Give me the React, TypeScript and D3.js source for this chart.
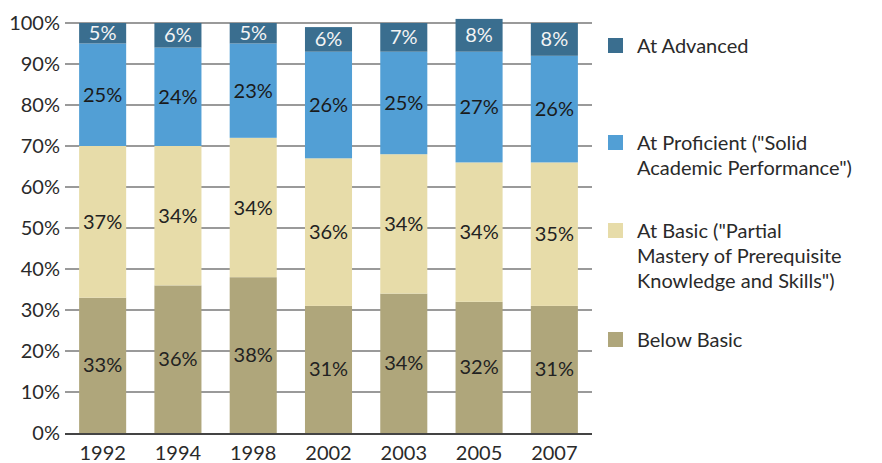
import React from "react";
import * as d3 from "d3";

const years = ["1992", "1994", "1998", "2002", "2003", "2005", "2007"];
const belowBasic = [33, 36, 38, 31, 34, 32, 31];
const atBasic = [37, 34, 34, 36, 34, 34, 35];
const atProficient = [25, 24, 23, 26, 25, 27, 26];
const atAdvanced = [5, 6, 5, 6, 7, 8, 8];
const yTicks = [0, 10, 20, 30, 40, 50, 60, 70, 80, 90, 100];

const seriesKeys = ["below", "basic", "proficient", "advanced"];
const seriesColors: Record<string, string> = {
  below: "#afa67b",
  basic: "#e7dca9",
  proficient: "#529fd5",
  advanced: "#3a6e8f",
};
const labelColors: Record<string, string> = {
  below: "#222",
  basic: "#222",
  proficient: "#1a1a1a",
  advanced: "#f4f4f4",
};

const legendItems = [
  { key: "advanced", lines: ["At Advanced"] },
  { key: "proficient", lines: ['At Proficient ("Solid', 'Academic Performance")'] },
  { key: "basic", lines: ['At Basic ("Partial', "Mastery of Prerequisite", 'Knowledge and Skills")'] },
  { key: "below", lines: ["Below Basic"] },
];

const FONT = "Lato, 'Open Sans', sans-serif";

export default function App() {
  const W = 882;
  const H = 463;
  const rows = years.map((y, i) => ({
    year: y,
    below: belowBasic[i],
    basic: atBasic[i],
    proficient: atProficient[i],
    advanced: atAdvanced[i],
  }));
  const stacked = d3.stack<any>().keys(seriesKeys)(rows);

  const x = d3
    .scaleBand<string>()
    .domain(years)
    .range([65, 592])
    .paddingInner(0.375)
    .paddingOuter(0.1875);
  const y = d3.scaleLinear().domain([0, 100]).range([433, 23]);

  const legendTop: Record<string, number> = {
    advanced: 38,
    proficient: 135,
    basic: 223,
    below: 332,
  };

  return (
    <svg
      width={W}
      height={H}
      style={{ position: "absolute", left: 0, top: 0, background: "#fff" }}
      fontFamily={FONT}
    >
      {/* gridlines */}
      {yTicks.slice(1).map((t) => (
        <line
          key={"g" + t}
          x1={65}
          x2={592}
          y1={y(t)}
          y2={y(t)}
          stroke="#9a9a9a"
          strokeWidth={2}
        />
      ))}
      {/* y tick labels */}
      {yTicks.map((t) => (
        <text
          key={"t" + t}
          x={60}
          y={y(t) + 7}
          textAnchor="end"
          fontSize={20}
          fill="#2a2a2a"
        >
          {t}%
        </text>
      ))}
      {/* stacked bars */}
      {stacked.map((s) => (
        <g key={s.key}>
          {s.map((d, i) => (
            <rect
              key={i}
              x={x(years[i])}
              width={x.bandwidth()}
              y={y(d[1])}
              height={y(d[0]) - y(d[1])}
              fill={seriesColors[s.key]}
            />
          ))}
        </g>
      ))}
      {/* value labels */}
      {stacked.map((s) => (
        <g key={"l" + s.key}>
          {s.map((d, i) => (
            <text
              key={i}
              x={(x(years[i]) as number) + x.bandwidth() / 2}
              y={(y(d[0]) + y(d[1])) / 2 + 7}
              textAnchor="middle"
              fontSize={20}
              fill={labelColors[s.key]}
            >
              {(d[1] - d[0]).toString()}%
            </text>
          ))}
        </g>
      ))}
      {/* baseline */}
      <line x1={65} x2={592} y1={y(0) + 1} y2={y(0) + 1} stroke="#444" strokeWidth={2} />
      {/* x labels */}
      {years.map((yr) => (
        <text
          key={yr}
          x={(x(yr) as number) + x.bandwidth() / 2}
          y={460}
          textAnchor="middle"
          fontSize={20}
          fill="#2a2a2a"
        >
          {yr}
        </text>
      ))}
      {/* legend */}
      {legendItems.map((item) => (
        <g key={"lg" + item.key}>
          <rect
            x={608}
            y={legendTop[item.key]}
            width={15}
            height={15}
            fill={seriesColors[item.key]}
          />
          {item.lines.map((ln, j) => (
            <text
              key={j}
              x={637}
              y={legendTop[item.key] + 15 + j * 25}
              fontSize={20}
              fill="#2a2a2a"
            >
              {ln}
            </text>
          ))}
        </g>
      ))}
    </svg>
  );
}
